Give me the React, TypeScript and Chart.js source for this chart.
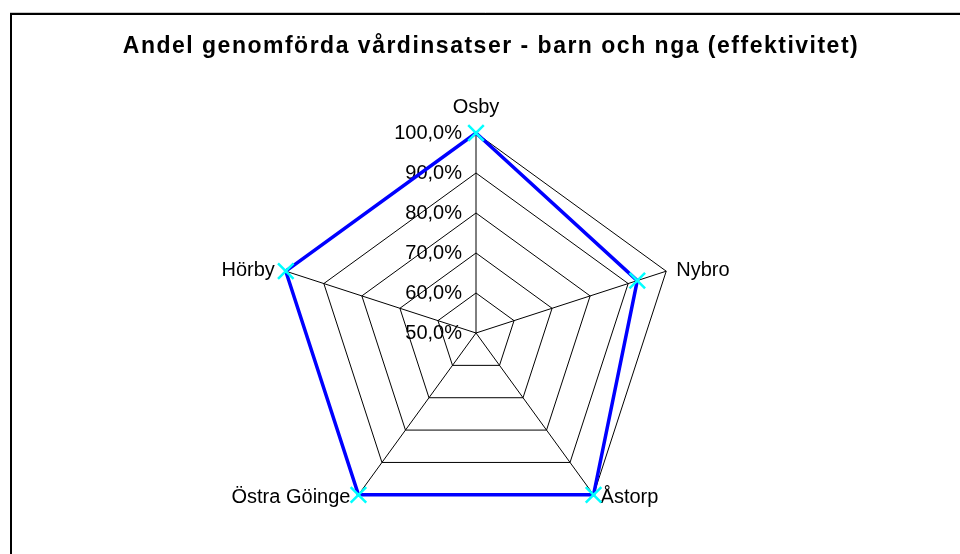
import React, { useEffect, useRef } from "react";
import { Chart, registerables } from "chart.js";

Chart.register(...registerables);

const TITLE = "Andel genomförda vårdinsatser - barn och nga (effektivitet)";
const categories = ["Osby", "Nybro", "Åstorp", "Östra Göinge", "Hörby"];
const values = [100, 92.4, 100, 100, 100];
const scaleMin = 50;
const scaleMax = 100;
const scaleStep = 10;

const FONT = '"Liberation Sans", Arial, sans-serif';

const fmt = (v: number) => v.toFixed(1).replace(".", ",") + "%";

const framePlugin = {
  id: "frameAndTitle",
  beforeDraw(chart: any) {
    const ctx = chart.ctx;
    ctx.save();
    ctx.fillStyle = "#ffffff";
    ctx.fillRect(0, 0, chart.width, chart.height);
    ctx.strokeStyle = "#c8c8c8";
    ctx.lineWidth = 1;
    ctx.beginPath();
    ctx.moveTo(10, 12.5);
    ctx.lineTo(chart.width + 5, 12.5);
    ctx.stroke();
    ctx.strokeStyle = "#000000";
    ctx.lineWidth = 2;
    ctx.beginPath();
    ctx.moveTo(11, chart.height + 5);
    ctx.lineTo(11, 14);
    ctx.lineTo(chart.width + 5, 14);
    ctx.stroke();
    ctx.fillStyle = "#000";
    ctx.font = "bold 23px " + FONT;
    try {
      (ctx as any).letterSpacing = "1.5px";
    } catch (e) {}
    ctx.textAlign = "center";
    ctx.textBaseline = "middle";
    ctx.fillText(TITLE, 491, 47);
    try {
      (ctx as any).letterSpacing = "0px";
    } catch (e) {}
    ctx.restore();
  },
};

const labelPlugin = {
  id: "radarLabels",
  beforeDatasetsDraw(chart: any) {
    const ctx = chart.ctx;
    const scale = chart.scales.r;
    ctx.save();
    ctx.fillStyle = "#000";
    ctx.font = "20px " + FONT;
    ctx.textAlign = "right";
    ctx.textBaseline = "middle";
    scale.ticks.forEach((t: any) => {
      const d = scale.getDistanceFromCenterForValue(t.value);
      ctx.fillText(fmt(t.value), scale.xCenter - 14, scale.yCenter - d);
    });
    categories.forEach((c, i) => {
      const p = scale.getPointPosition(i, scale.drawingArea);
      const dx = p.x - scale.xCenter;
      const dy = p.y - scale.yCenter;
      if (Math.abs(dx) < 1) {
        ctx.textAlign = "center";
        ctx.fillText(c, p.x, p.y - 26);
      } else if (dy < 0) {
        ctx.textAlign = dx > 0 ? "left" : "right";
        ctx.fillText(c, p.x + (dx > 0 ? 10 : -11), p.y - 1);
      } else {
        ctx.textAlign = dx > 0 ? "left" : "right";
        ctx.fillText(c, p.x + (dx > 0 ? 7 : -8), p.y + 3);
      }
    });
    ctx.restore();
  },
};

export default function App() {
  const ref = useRef<HTMLCanvasElement | null>(null);
  useEffect(() => {
    if (!ref.current) return;
    const chart = new Chart(ref.current, {
      type: "radar",
      data: {
        labels: categories,
        datasets: [
          {
            data: values,
            borderColor: "#0000ff",
            borderWidth: 3.5,
            backgroundColor: "rgba(0,0,0,0)",
            fill: false,
            pointStyle: "crossRot",
            pointRadius: 11,
            pointBorderColor: "#00ffff",
            pointBorderWidth: 2.5,
            pointBackgroundColor: "#00ffff",
            tension: 0,
          },
        ],
      },
      options: {
        animation: false,
        responsive: true,
        maintainAspectRatio: false,
        layout: { padding: { top: 133, bottom: 21, left: 0, right: 8 } },
        plugins: {
          legend: { display: false },
          title: { display: false },
          tooltip: { enabled: false },
        },
        scales: {
          r: {
            min: scaleMin,
            max: scaleMax,
            ticks: { stepSize: scaleStep, display: false, callback: (v: any) => fmt(Number(v)) },
            pointLabels: { display: false },
            grid: { color: "#000", lineWidth: 1, circular: false },
            angleLines: { color: "#000", lineWidth: 1 },
          },
        },
      },
      plugins: [framePlugin, labelPlugin],
    });
    return () => chart.destroy();
  }, []);
  return (
    <div style={{ position: "absolute", left: 0, top: 0, width: 960, height: 554 }}>
      <canvas ref={ref} />
    </div>
  );
}
